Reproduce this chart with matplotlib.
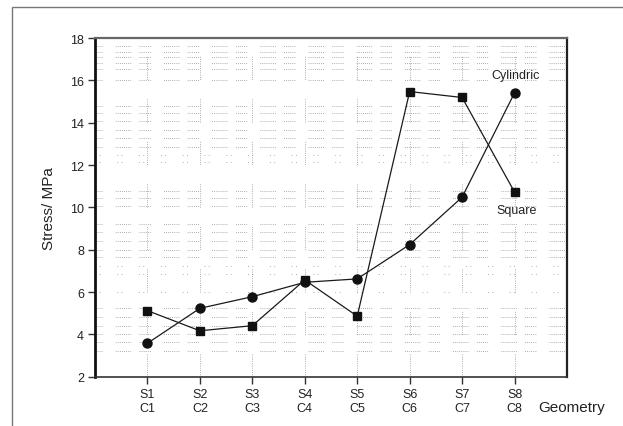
import matplotlib
matplotlib.use("Agg")
import matplotlib.pyplot as plt
from matplotlib.patches import Rectangle

# Geometry pairs (square / cylindric specimens)
categories = ["S1\nC1", "S2\nC2", "S3\nC3", "S4\nC4", "S5\nC5", "S6\nC6", "S7\nC7", "S8\nC8"]
square_stress = [5.12, 4.17, 4.41, 6.57, 4.86, 15.47, 15.19, 10.72]
cylindric_stress = [3.58, 5.23, 5.78, 6.46, 6.62, 8.24, 10.48, 15.41]
y_ticks = [2, 4, 6, 8, 10, 12, 14, 16, 18]

# Background dotted texture rows (stress levels)
dense_rows = [17.6, 17.34, 17.08, 16.82, 16.55, 16.03,
              14.81, 14.45, 14.06, 13.66, 13.27, 12.87,
              10.79, 10.43, 10.06, 9.19, 8.83, 8.40, 7.99, 7.65,
              5.23, 4.81, 4.41, 4.02, 3.63, 3.23]
sparse_rows = [12.48, 12.14, 7.25, 6.86, 5.99]

plt.rcParams['font.family'] = ['Liberation Sans Narrow', 'Liberation Sans', 'DejaVu Sans']
plt.rcParams['lines.scale_dashes'] = False

fig = plt.figure(figsize=(6.23, 4.27), dpi=100)
fig.patch.set_facecolor('white')

# outer frame of the figure
fig.add_artist(Rectangle((12 / 623, -0.05), 1.1, 1 - 8 / 427 + 0.05,
                         transform=fig.transFigure, fill=False,
                         edgecolor='#777777', linewidth=1.0))

ax = fig.add_axes([95 / 623, 1 - 377.7 / 427, (567 - 95) / 623, (377.7 - 39) / 427])

x = list(range(1, len(categories) + 1))

# dotted background texture
dot = 0.6
block_a = [dot, 0.9] * 6
block_b = [dot, 0.9] * 8
pattern = block_a[:-1] + [9.5] + block_b[:-1] + [6.0]
for yv in dense_rows:
    ax.axhline(yv, color='#8a8a8a', linewidth=0.55, linestyle=(3.0, pattern), zorder=1)
sparse_pattern = [dot, 2.5, dot, 12.0]
for yv in sparse_rows:
    ax.axhline(yv, color='#8a8a8a', linewidth=0.55, linestyle=(0, sparse_pattern), zorder=1)
for xv in x:
    ax.axvline(xv, color='#8a8a8a', linewidth=0.55,
               linestyle=(0, [dot, 1.0] * 10 + [dot, 14.0]), zorder=1)

ax.plot(x, square_stress, color='#1a1a1a', linewidth=0.9, marker='s',
        markersize=6.0, markerfacecolor='#111111', markeredgecolor='#111111', zorder=3)
ax.plot(x, cylindric_stress, color='#1a1a1a', linewidth=0.9, marker='o',
        markersize=6.5, markerfacecolor='#111111', markeredgecolor='#111111', zorder=3)

ax.text(8.02, 16.23, "Cylindric", fontsize=9, ha='center', va='center', color='#222222')
ax.text(8.04, 9.88, "Square", fontsize=9, ha='center', va='center', color='#222222')

ax.set_xlim(0, 9)
ax.set_ylim(2, 18)
ax.set_xticks(x)
ax.set_xticklabels(categories, fontsize=9, linespacing=1.25)
ax.set_yticks(y_ticks)
ax.set_yticklabels([str(v) for v in y_ticks], fontsize=9)
ax.tick_params(axis='both', direction='out', length=5, width=1.0, color='#333333',
               labelcolor='#222222', pad=3)

ax.spines['left'].set_linewidth(2.0)
ax.spines['left'].set_color('#111111')
ax.spines['right'].set_linewidth(1.6)
ax.spines['right'].set_color('#222222')
ax.spines['top'].set_linewidth(1.6)
ax.spines['top'].set_color('#666666')
ax.spines['bottom'].set_linewidth(1.2)
ax.spines['bottom'].set_color('#333333')

ax.set_ylabel("Stress/ MPa", fontsize=11, color='#222222', labelpad=10)
fig.text(538 / 623, 1 - 408 / 427, "Geometry", fontsize=11, ha='left', va='center',
         color='#222222')

fig.savefig("out.png", dpi=100)
